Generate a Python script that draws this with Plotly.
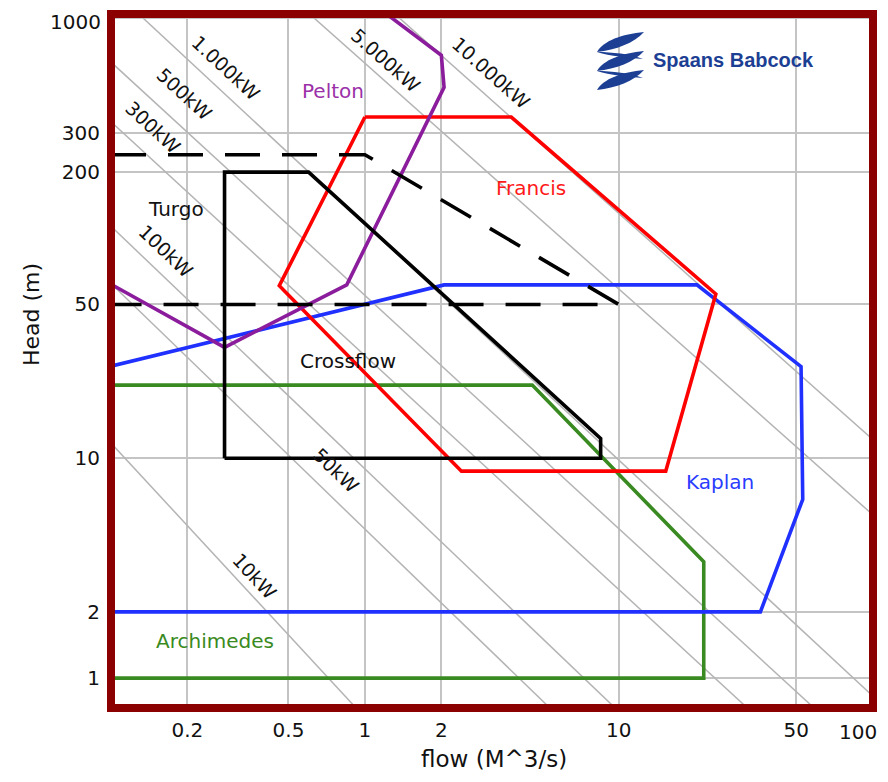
import numpy as np
import plotly.graph_objects as go

# ---------------- data ----------------
x_tick_vals = [0.2, 0.5, 1, 2, 10, 50, 100]
x_tick_text = ["0.2", "0.5", "1", "2", "10", "50", "100"]
y_tick_vals = [1, 2, 10, 50, 200, 300, 1000]
y_tick_text = ["1", "2", "10", "50", "200", "300", "1000"]

# iso-power lines (kW), each read as two points (flow, head) on the chart
power_kw = [10, 50, 100, 300, 500, 1000, 5000, 10000]
power_text = ["10kW", "50kW", "100kW", "300kW", "500kW", "1.000kW", "5.000kW", "10.000kW"]
power_q_a = [0.1056, 0.1056, 0.1056, 0.1056, 0.1056, 0.1356, 0.640, 1.387]
power_h_a = [10.94, 58.6, 106.8, 320, 597, 989, 989, 989]
power_q_b = [0.921, 5.34, 9.65, 32.0, 58.6, 96.6, 96.6, 96.6]
power_h_b = [0.733, 0.733, 0.733, 0.733, 0.733, 0.860, 5.73, 12.6]

pelton_q = [1.15, 2.0, 2.05, 0.848, 0.28, 0.1]
pelton_h = [1100, 680, 486, 61.4, 31.9, 61.8]
francis_q = [1.0, 3.77, 24.1, 15.3, 2.40, 0.46, 1.0]
francis_h = [356, 356, 55.8, 8.73, 8.73, 60.9, 356]
kaplan_q = [0.1, 2.05, 20.3, 52.2, 53.0, 36.1, 0.1]
kaplan_h = [26.2, 61.4, 61.4, 26.1, 6.5, 2.0, 2.0]
crossflow_q = [0.28, 0.28, 0.60, 8.48, 8.48, 0.28]
crossflow_h = [10, 200, 200, 12.3, 10, 10]
turgo_q = [0.1, 1.0, 10, 0.1]
turgo_h = [240, 240, 50, 50]
archimedes_q = [0.1, 4.56, 21.6, 21.6, 0.1]
archimedes_h = [21.5, 21.5, 3.38, 1.0, 1.0]

# ---------------- layout ----------------
OFF = 8                      # default page body margin
W, H = 872, 764              # page = 888 x 780 including body margins
ML, MR, MT, MB = 103, 7, 6, 64
PW, PH = W - ML - MR, H - MT - MB
X_RANGE = [-1.0, 2.001]
Y_RANGE = [-0.136, 3.020]

# label centres (flow, head) of the kW captions
label_q = [0.368, 0.768, 0.1647, 0.146, 0.1945, 0.2843, 1.207, 3.145]
label_h = [2.924, 8.81, 87.7, 320, 451, 597, 650, 566]
turbine_labels = [
    ("Pelton", 0.75, 466, "#9b30a8"),
    ("Francis", 4.5, 170, "#ff1a1a"),
    ("Turgo", 0.18, 136, "#111111"),
    ("Crossflow", 0.86, 27.7, "#111111"),
    ("Kaplan", 25, 7.8, "#2a3cff"),
    ("Archimedes", 0.257, 1.47, "#3a8a22"),
]

FONT = "DejaVu Sans, Verdana, sans-serif"
TICKFONT = dict(family=FONT, size=20, color="#111111")
fig = go.Figure()

ann = []
xpx = PW / (X_RANGE[1] - X_RANGE[0])
ypx = PH / (Y_RANGE[1] - Y_RANGE[0])
for txt, qa, ha, qb, hb, ql, hl in zip(power_text, power_q_a, power_h_a,
                                        power_q_b, power_h_b, label_q, label_h):
    lqa, lha, lqb, lhb = np.log10([qa, ha, qb, hb])
    slope = (lhb - lha) / (lqb - lqa)
    lq = np.array([-1.6, 2.6])
    lh = lha + slope * (lq - lqa)
    fig.add_trace(go.Scatter(x=10 ** lq, y=10 ** lh, mode="lines",
                             line=dict(color="#b4b4b4", width=1.5), hoverinfo="skip",
                             showlegend=False))
    ang = float(np.degrees(np.arctan(-slope * ypx / xpx)))
    ann.append(dict(x=np.log10(ql), y=np.log10(hl), xref="x", yref="y", text=txt,
                    showarrow=False, textangle=ang, xanchor="center", yanchor="middle",
                    font=dict(family=FONT, size=19, color="#111111")))

series = [
    (archimedes_q, archimedes_h, "#3a8a22", "solid"),
    (kaplan_q, kaplan_h, "#1f30ff", "solid"),
    (francis_q, francis_h, "#ff0000", "solid"),
    (pelton_q, pelton_h, "#8b1c9c", "solid"),
    (crossflow_q, crossflow_h, "#000000", "solid"),
    (turgo_q, turgo_h, "#000000", "35px,22px"),
]
for q, h, c, dsh in series:
    fig.add_trace(go.Scatter(x=q, y=h, mode="lines",
                             line=dict(color=c, width=3.6, dash=dsh),
                             hoverinfo="skip", showlegend=False))

for txt, q, hh, c in turbine_labels:
    ann.append(dict(x=np.log10(q), y=np.log10(hh), xref="x", yref="y", text=txt,
                    showarrow=False, xanchor="center", yanchor="middle",
                    font=dict(family=FONT, size=20, color=c)))


def px2paper(px, py):
    return (px - OFF - ML) / PW, (H - MB - (py - OFF)) / PH


# tick labels sitting on the border corners are drawn as annotations, nudged
# inwards so they stay fully visible
x_axis_labels_inline = x_tick_text[:-1] + [""]
y_axis_labels_inline = y_tick_text[:-1] + [""]
ann.append(dict(x=np.log10(x_tick_vals[-1]), y=0, xref="x", yref="paper",
                text=x_tick_text[-1], showarrow=False, xanchor="right", yanchor="top",
                xshift=6, yshift=-10, font=TICKFONT))
ann.append(dict(x=0, y=np.log10(y_tick_vals[-1]), xref="paper", yref="y",
                text=y_tick_text[-1], showarrow=False, xanchor="right", yanchor="middle",
                xshift=-8, yshift=-4, font=TICKFONT))

# axis titles and logo text (pixel positions on the page)
page_texts = [
    ("Head (m)", 32, 315, -90, dict(family=FONT, size=22, color="#111111")),
    ("flow (M^3/s)", 494, 759, 0, dict(family=FONT, size=23, color="#111111")),
    ("<b>Spaans Babcock</b>", 733, 60, 0,
     dict(family="Liberation Sans, Arial, sans-serif", size=20, color="#1c3f94")),
]
for txt, px, py, ta, f in page_texts:
    x, y = px2paper(px, py)
    ann.append(dict(x=x, y=y, xref="paper", yref="paper", text=txt, showarrow=False,
                    textangle=ta, xanchor="center", yanchor="middle", font=f))


def path_from_px(pts):
    s = ""
    for cmd, coords in pts:
        s += cmd
        for (px, py) in coords:
            x, y = px2paper(px, py)
            s += f" {x:.5f},{y:.5f}"
        s += " "
    return s + "Z"


shapes = []
for k in range(3):
    dy = 19.0 * k
    blade = [("M", [(597, 52 + dy)]),
             ("C", [(603, 41 + dy), (622, 34 + dy), (644, 32 + dy)]),
             ("C", [(634, 43 + dy), (616, 50 + dy), (597, 52 + dy)])]
    tail = [("M", [(597, 52 + dy)]),
            ("C", [(612, 52 + dy), (630, 54 + dy), (643, 59 + dy)]),
            ("C", [(628, 58 + dy), (610, 56 + dy), (597, 52 + dy)])]
    shapes.append(dict(type="path", xref="paper", yref="paper", path=path_from_px(blade),
                       fillcolor="#1c3f94", line=dict(width=0), layer="above"))
    if k < 2:
        shapes.append(dict(type="path", xref="paper", yref="paper", path=path_from_px(tail),
                           fillcolor="#1c3f94", line=dict(width=0), layer="above"))

shapes.append(dict(type="rect", xref="paper", yref="paper", x0=0, y0=0, x1=1, y1=1,
                   line=dict(color="#8b0000", width=8), layer="above"))

axis_common = dict(type="log", showgrid=True, gridcolor="#c4c4c4", gridwidth=2,
                   zeroline=False, showline=False, ticks="", tickmode="array",
                   tickfont=TICKFONT)
fig.update_layout(
    width=W, height=H, margin=dict(l=ML, r=MR, t=MT, b=MB),
    paper_bgcolor="white", plot_bgcolor="white",
    xaxis=dict(range=X_RANGE, tickvals=x_tick_vals, ticktext=x_axis_labels_inline,
               ticklabelstandoff=8, **axis_common),
    yaxis=dict(range=Y_RANGE, tickvals=y_tick_vals, ticktext=y_axis_labels_inline,
               ticklabelstandoff=10, **axis_common),
    annotations=ann, shapes=shapes, showlegend=False,
)
fig.write_html("out.html", include_plotlyjs=True, full_html=True,
               config=dict(displayModeBar=False))
